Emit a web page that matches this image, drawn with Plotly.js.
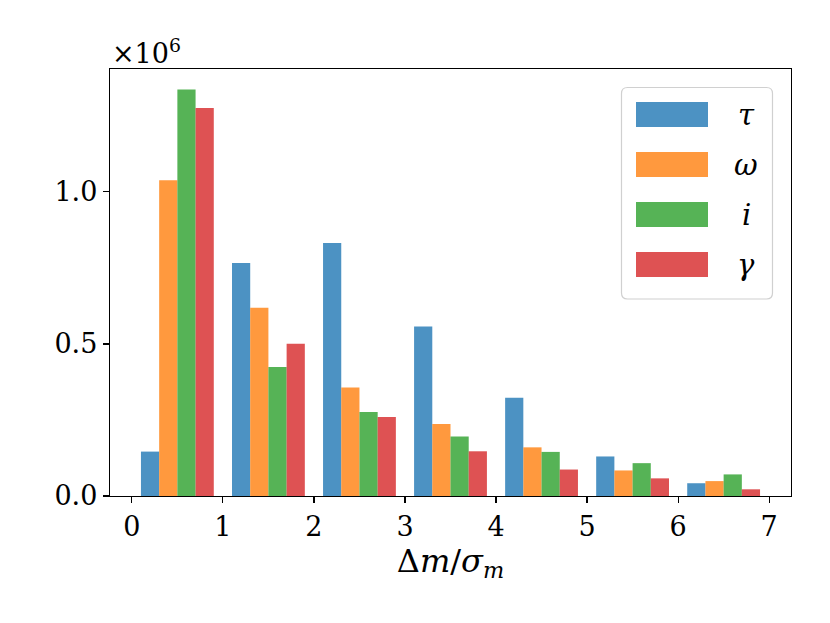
<!DOCTYPE html>
<html>
<head>
<meta charset="utf-8">
<script src="https://cdn.plot.ly/plotly-3.0.1.min.js"></script>
<style>
  html, body { margin: 0; padding: 0; background: #fff; }
  #plot { width: 830px; height: 623px; }
</style>
</head>
<body>
<div id="plot"></div>
<script>
// bin centres (bins of width 1 from 0 to 7)
var binCenters = [0.5, 1.5, 2.5, 3.5, 4.5, 5.5, 6.5];

// counts per bin, in units of 1e6
var tauCounts   = [0.146, 0.766, 0.832, 0.557, 0.323, 0.130, 0.042];
var omegaCounts = [1.038, 0.619, 0.357, 0.237, 0.160, 0.084, 0.049];
var iCounts     = [1.337, 0.424, 0.276, 0.196, 0.145, 0.108, 0.071];
var gammaCounts = [1.276, 0.501, 0.260, 0.147, 0.087, 0.058, 0.022];

var seriesNames  = ["τ", "ω", "i", "γ"];
var seriesCounts = [tauCounts, omegaCounts, iCounts, gammaCounts];
var seriesColors = ["#1f77b4", "#ff7f0e", "#2ca02c", "#d62728"];

var yTickVals = [0, 0.5e6, 1.0e6];
var yTickText = ["0.0", "0.5", "1.0"];
var xTickVals = [0, 1, 2, 3, 4, 5, 6, 7];

var FONT = "'DejaVu Serif', 'Liberation Serif', serif";

var data = seriesCounts.map(function (counts, k) {
  return {
    type: "bar",
    name: seriesNames[k],
    x: binCenters,
    y: counts.map(function (v) { return v * 1e6; }),
    marker: { color: seriesColors[k], opacity: 0.8, line: { width: 0 } },
    showlegend: false,
    hoverinfo: "x+y"
  };
});

// plot area in pixels (matches margins below)
var L = 110, R = 791, T = 69, B = 496;
function px(x) { return (x - L) / (R - L); }
function py(y) { return (B - y) / (B - T); }

// hand-drawn legend box with wide patches, like matplotlib
var shapes = [];
var annotations = [];
var bx0 = 621.5, bx1 = 772.5, by0 = 87.5, by1 = 299;
var rad = 6;
var rx = rad / (R - L), ry = rad / (B - T);
var X0 = px(bx0), X1 = px(bx1), Y0 = py(by1), Y1 = py(by0);
shapes.push({
  type: "path", xref: "paper", yref: "paper",
  path: "M" + (X0 + rx) + "," + Y0 +
        " L" + (X1 - rx) + "," + Y0 +
        " Q" + X1 + "," + Y0 + " " + X1 + "," + (Y0 + ry) +
        " L" + X1 + "," + (Y1 - ry) +
        " Q" + X1 + "," + Y1 + " " + (X1 - rx) + "," + Y1 +
        " L" + (X0 + rx) + "," + Y1 +
        " Q" + X0 + "," + Y1 + " " + X0 + "," + (Y1 - ry) +
        " L" + X0 + "," + (Y0 + ry) +
        " Q" + X0 + "," + Y0 + " " + (X0 + rx) + "," + Y0 + " Z",
  fillcolor: "rgba(255,255,255,0.8)",
  line: { color: "#d0d0d0", width: 1.2 }
});
seriesNames.forEach(function (name, k) {
  var top = 102 + 50 * k;
  shapes.push({
    type: "rect", xref: "paper", yref: "paper",
    x0: px(636), x1: px(708), y0: py(top + 25), y1: py(top),
    fillcolor: seriesColors[k], opacity: 0.8,
    line: { width: 0 }
  });
  annotations.push({
    xref: "paper", yref: "paper",
    x: px(746), y: py(top + 12.5),
    xanchor: "center", yanchor: "middle",
    text: "<i>" + name + "</i>",
    showarrow: false,
    font: { family: FONT, size: 29, color: "#000" }
  });
});

// offset label above the y axis
annotations.push({
  xref: "paper", yref: "paper",
  x: 0, y: 1, xanchor: "left", yanchor: "bottom",
  xshift: 0, yshift: -2,
  text: "×10<sup>6</sup>",
  showarrow: false,
  font: { family: FONT, size: 27, color: "#000" }
});

var layout = {
  width: 830,
  height: 623,
  margin: { l: L, r: 830 - R, t: T, b: 623 - B },
  paper_bgcolor: "#fff",
  plot_bgcolor: "#fff",
  barmode: "group",
  bargap: 0.2,
  bargroupgap: 0,
  font: { family: FONT, size: 27, color: "#000" },
  xaxis: {
    range: [-0.24, 7.24],
    tickvals: xTickVals,
    ticks: "outside",
    ticklen: 6,
    tickwidth: 1.2,
    tickcolor: "#000",
    showgrid: false,
    zeroline: false,
    showline: true,
    linecolor: "#000",
    linewidth: 1.2,
    mirror: true,
    tickfont: { family: FONT, size: 27 },
    title: {
      text: "Δ<i>m</i>/<i>σ</i><sub><i>m</i></sub>",
      font: { family: FONT, size: 32 },
      standoff: 4
    }
  },
  yaxis: {
    range: [0, 1.404e6],
    tickvals: yTickVals,
    ticktext: yTickText,
    ticks: "outside",
    ticklen: 6,
    tickwidth: 1.2,
    tickcolor: "#000",
    showgrid: false,
    zeroline: false,
    showline: true,
    linecolor: "#000",
    linewidth: 1.2,
    mirror: true,
    tickfont: { family: FONT, size: 27 }
  },
  shapes: shapes,
  annotations: annotations
};

Plotly.newPlot("plot", data, layout, { displayModeBar: false, staticPlot: true });
</script>
</body>
</html>
